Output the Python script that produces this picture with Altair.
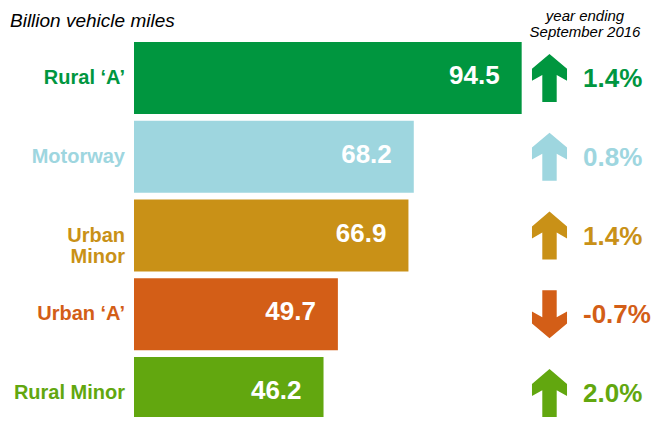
import altair as alt
import pandas as pd

categories = ["Rural ‘A’", "Motorway", "Urban Minor", "Urban ‘A’", "Rural Minor"]
labels = ["Rural ‘A’", "Motorway", "Urban\nMinor", "Urban ‘A’", "Rural Minor"]
values = [94.5, 68.2, 66.9, 49.7, 46.2]
changes = [1.4, 0.8, 1.4, -0.7, 2.0]
colors = ["#00963f", "#9ed6df", "#c99117", "#d35e17", "#62a70f"]

title_text = "Billion vehicle miles"
period_text = "year ending\nSeptember 2016"

FONT = "Liberation Sans"
UP = "M0,-1 L0.73,-0.38 L0.73,0.12 L0.3,-0.12 L0.3,1 L-0.3,1 L-0.3,-0.12 L-0.73,0.12 L-0.73,-0.38 Z"
DOWN = "M0,1 L0.73,0.38 L0.73,-0.12 L0.3,0.12 L0.3,-1 L-0.3,-1 L-0.3,0.12 L-0.73,-0.12 L-0.73,0.38 Z"

df = pd.DataFrame({"cat": categories, "label": labels, "value": values, "change": changes})

xs = alt.Scale(domain=[0, 127], range=[126, 647], nice=False, zero=False)
ys = alt.Scale(domain=categories, range=[30.6, 424.4], paddingInner=0.0857, paddingOuter=0.0429)
cs = alt.Scale(domain=categories, range=colors)

base = alt.Chart(df).transform_calculate(
    pct="(datum.change < 0 ? '-' : '') + format(abs(datum.change), '.1f') + '%'",
    dir="datum.change >= 0 ? 'up' : 'down'",
)

y_enc = alt.Y("cat:N", scale=ys, axis=None, sort=categories)
c_enc = alt.Color("cat:N", scale=cs, legend=None)

bars = base.mark_bar(clip=True).encode(
    x=alt.X("value:Q", scale=xs, axis=None),
    x2=alt.datum(0),
    y=y_enc,
    color=c_enc,
)

value_text = base.mark_text(
    align="right", baseline="middle", dx=-22, dy=-2,
    font=FONT, fontSize=26, fontWeight="bold", color="white",
).encode(
    x=alt.X("value:Q", scale=xs, axis=None),
    y=y_enc,
    text=alt.Text("value:Q", format=".1f"),
)

cat_text = base.mark_text(
    align="right", baseline="middle", lineBreak="\n", lineHeight=21,
    font=FONT, fontSize=20, fontWeight="bold",
).encode(
    x=alt.value(117),
    y=y_enc,
    text="label:N",
    color=c_enc,
)

arrows = base.mark_point(filled=True, opacity=1, strokeWidth=0, size=2304).encode(
    x=alt.value(541.5),
    y=y_enc,
    shape=alt.Shape("dir:N", scale=alt.Scale(domain=["up", "down"], range=[UP, DOWN]), legend=None),
    color=c_enc,
)

pct_text = base.mark_text(
    align="left", baseline="middle", dy=1,
    font=FONT, fontSize=26, fontWeight="bold",
).encode(
    x=alt.value(575),
    y=y_enc,
    text="pct:N",
    color=c_enc,
)

title = alt.Chart(pd.DataFrame({"t": [title_text]})).mark_text(
    align="left", baseline="alphabetic", font=FONT, fontSize=19,
    fontStyle="italic", color="black",
).encode(x=alt.value(2), y=alt.value(19), text="t:N")

period = alt.Chart(pd.DataFrame({"t": [period_text]})).mark_text(
    align="center", baseline="top", lineBreak="\n", lineHeight=16,
    font=FONT, fontSize=15, fontStyle="italic", color="black",
).encode(x=alt.value(577), y=alt.value(1), text="t:N")

chart = alt.layer(bars, value_text, cat_text, arrows, pct_text, title, period).properties(
    width=647, height=409,
    autosize=alt.AutoSizeParams(type="none"),
    padding=0,
).configure_view(stroke=None)

chart.save("out.html", embed_options={"renderer": "svg", "actions": False})
